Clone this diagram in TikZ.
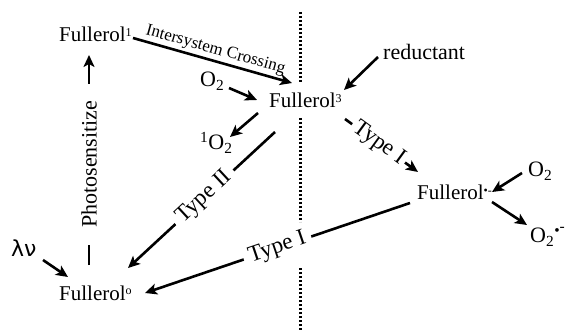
\documentclass[tikz,border=0pt]{standalone}
\usepackage{fontspec}
\setmainfont{Liberation Serif}
\newfontfamily\greekfont{DejaVu Sans}
\usetikzlibrary{arrows.meta}
\newcommand{\supsm}[1]{\raisebox{5.5pt}{\fontsize{12}{12}\selectfont #1}}
\begin{document}
\begin{tikzpicture}[x=1pt,y=-1pt,
  lbl/.style={font=\fontsize{22}{24}\selectfont, inner sep=0pt, anchor=base west},
  ful/.style={font=\fontsize{21}{24}\selectfont, inner sep=0pt, anchor=base west},
  arr/.style={line width=2.6pt, -{Stealth[length=12pt,width=11pt,inset=3pt]}},
  brk/.style={fill=white, inner ysep=1pt, font=\fontsize{23}{24}\selectfont, sloped},
  sepline/.style={line width=3pt, dash pattern=on 2.2pt off 1.8pt}]
\useasboundingbox (0,0) rectangle (565,331);
% text nodes
\node[ful] (f1) at (59,42) {Fullerol\supsm{1}};
\node[ful] (f3) at (269,108) {Fullerol\supsm{3}};
\node[ful] (fr) at (417,200) {Fullerol\supsm{•-}};
\node[ful] (f0) at (59,300) {Fullerol\supsm{o}};
\node[lbl] (red) at (383,60) {reductant};
\node[lbl] (o2a) at (200,87) {O\textsubscript{2}};
\node[lbl] (so2) at (200,150) {\textsuperscript{1}O\textsubscript{2}};
\node[lbl] (o2b) at (528,177) {O\textsubscript{2}};
\node[lbl] (o2r) at (530,243) {O\textsubscript{2}\textsuperscript{•\raisebox{4pt}{-}}};
\node[lbl, font=\fontsize{22}{24}\greekfont] (lam) at (11,257) {λν};
% connector end points
\coordinate (f1out) at (133,38);
\coordinate (f3inA) at (292,83);
\coordinate (o2aout) at (229,88);
\coordinate (f3inB) at (257,100);
\coordinate (f3outA) at (258,113);
\coordinate (so2in) at (230,137);
\coordinate (redout) at (378,57);
\coordinate (f3inC) at (344,90);
\coordinate (f3outB) at (275,132);
\coordinate (f0inA) at (128,268);
\coordinate (f3outC) at (345,119);
\coordinate (frin) at (418,172);
\coordinate (o2bout) at (522,173);
\coordinate (frinB) at (492,192);
\coordinate (frout) at (492,202);
\coordinate (o2rin) at (527,225);
\coordinate (froutB) at (410,203);
\coordinate (f0inB) at (145,293);
\coordinate (lamout) at (43,260);
\coordinate (f0inC) at (68,277);
\coordinate (f0out) at (89,265);
\coordinate (f1in) at (89,55);
% connectors
\draw[arr] (f1out) -- node[midway, above, sloped, font=\fontsize{17}{18}\selectfont, inner sep=2pt] {Intersystem Crossing} (f3inA);
\draw[arr] (o2aout) -- (f3inB);
\draw[arr] (f3outA) -- (so2in);
\draw[arr] (redout) -- (f3inC);
\draw[arr] (f3outB) -- node[brk, pos=0.48, inner xsep=6pt] {Type II} (f0inA);
\draw[arr] (f3outC) -- node[brk, pos=0.46, inner xsep=3pt] {Type I} (frin);
\draw[arr] (o2bout) -- (frinB);
\draw[arr] (frout) -- (o2rin);
\draw[arr] (froutB) -- node[brk, pos=0.5, inner xsep=6pt] {Type I} (f0inB);
\draw[arr] (lamout) -- (f0inC);
\draw[arr] (f0out) -- node[brk, pos=0.48, inner xsep=17pt, font=\fontsize{22}{24}\selectfont] {Photosensitize} (f1in);
% dotted separator
\coordinate (d1) at (300,12); \coordinate (d2) at (300,83);
\coordinate (d3) at (300,118); \coordinate (d4) at (300,222);
\coordinate (d5) at (300,268); \coordinate (d6) at (300,331);
\draw[sepline] (d1) -- (d2);
\draw[sepline] (d3) -- (d4);
\draw[sepline] (d5) -- (d6);
\end{tikzpicture}
\end{document}
